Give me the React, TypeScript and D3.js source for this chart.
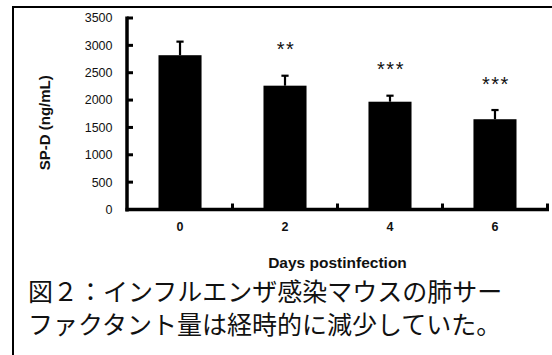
import * as d3 from 'd3';

const days = ['0', '2', '4', '6'];
const spdMeans = [2820, 2263, 1970, 1650];
const spdErrors = [248, 182, 110, 168];
const stars = ['', '**', '***', '***'];
const yTicks = [0, 500, 1000, 1500, 2000, 2500, 3000, 3500];
const captionLines = [
  '図２：インフルエンザ感染マウスの肺サー',
  'ファクタント量は経時的に減少していた。',
];

const W = 552;
const H = 355;
const plot = { left: 127, right: 548, top: 18, bottom: 209.5 };

const App = () => {
  const x = d3.scaleBand()
    .domain(days)
    .range([plot.left, plot.right])
    .paddingInner(0.59)
    .paddingOuter(0.3);

  const y = d3.scaleLinear()
    .domain([0, 3500])
    .range([plot.bottom, plot.top]);

  const step = x.step();
  // tick marks on x sit between the categories
  const xDividers = days.map((d) => (x(d) as number) + x.bandwidth() / 2 + step / 2);

  const sans = 'Liberation Sans, Arial, sans-serif';

  return (
    <svg
      width={W}
      height={H}
      style={{ position: 'absolute', left: 0, top: 0, background: '#fff' }}
    >
      {/* frame, cut on the right and bottom */}
      <line x1={13} y1={7} x2={W} y2={7} stroke="#000" strokeWidth={2} />
      <line x1={13} y1={6} x2={13} y2={H} stroke="#000" strokeWidth={2} />

      {/* bars */}
      {days.map((d, i) => (
        <rect
          key={d}
          x={x(d)}
          y={y(spdMeans[i])}
          width={x.bandwidth()}
          height={y(0) - y(spdMeans[i])}
          fill="#000"
        />
      ))}

      {/* error bars (upper only) */}
      {days.map((d, i) => {
        const cx = (x(d) as number) + x.bandwidth() / 2;
        const top = y(spdMeans[i] + spdErrors[i]);
        return (
          <g key={'e' + d} stroke="#000" strokeWidth={2.2}>
            <line x1={cx} x2={cx} y1={y(spdMeans[i])} y2={top} />
            <line x1={cx - 3.6} x2={cx + 3.6} y1={top} y2={top} />
          </g>
        );
      })}

      {/* significance stars */}
      {days.map((d, i) => (
        <text
          key={'s' + d}
          x={(x(d) as number) + x.bandwidth() / 2 + 1}
          y={y(spdMeans[i] + spdErrors[i]) - 19.5}
          textAnchor="middle"
          fontFamily={sans}
          fontSize={20}
          letterSpacing={1.5}
          fill="#111"
        >
          {stars[i]}
        </text>
      ))}

      {/* y axis */}
      <line x1={plot.left} x2={plot.left} y1={y(3500) - 1.5} y2={y(0) + 2} stroke="#000" strokeWidth={3.5} />
      {yTicks.map((t) => (
        <g key={'y' + t}>
          <line x1={plot.left} x2={plot.left + 6} y1={y(t)} y2={y(t)} stroke="#000" strokeWidth={3} />
          <text
            x={112.5}
            y={y(t)}
            dy="0.35em"
            textAnchor="end"
            fontFamily={sans}
            fontSize={12.5}
            fill="#111"
          >
            {t}
          </text>
        </g>
      ))}

      {/* x axis */}
      <line x1={plot.left - 1.5} x2={plot.right + 1} y1={y(0)} y2={y(0)} stroke="#000" strokeWidth={3.5} />
      {xDividers.map((dx, i) => (
        <line key={'xt' + i} x1={dx} x2={dx} y1={y(0)} y2={y(0) - 6} stroke="#000" strokeWidth={3} />
      ))}
      {days.map((d) => (
        <text
          key={'xl' + d}
          x={(x(d) as number) + x.bandwidth() / 2}
          y={231}
          textAnchor="middle"
          fontFamily={sans}
          fontWeight="bold"
          fontSize={12.5}
          fill="#111"
        >
          {d}
        </text>
      ))}

      {/* axis titles */}
      <text
        x={(plot.left + plot.right) / 2}
        y={268}
        textAnchor="middle"
        fontFamily={sans}
        fontWeight="bold"
        fontSize={15.5}
        fill="#111"
      >
        Days postinfection
      </text>
      <text
        transform={`translate(50, ${(y(0) + y(3500)) / 2 + 9}) rotate(-90)`}
        textAnchor="middle"
        fontFamily={sans}
        fontWeight="bold"
        fontSize={15}
        fill="#111"
      >
        SP-D (ng/mL)
      </text>

      {/* caption */}
      {captionLines.map((line, i) => (
        <text
          key={'c' + i}
          x={28}
          y={301 + i * 33}
          fontFamily="Noto Sans CJK JP, sans-serif"
          fontSize={25}
          fill="#111"
        >
          {line}
        </text>
      ))}
    </svg>
  );
};

export default App;
